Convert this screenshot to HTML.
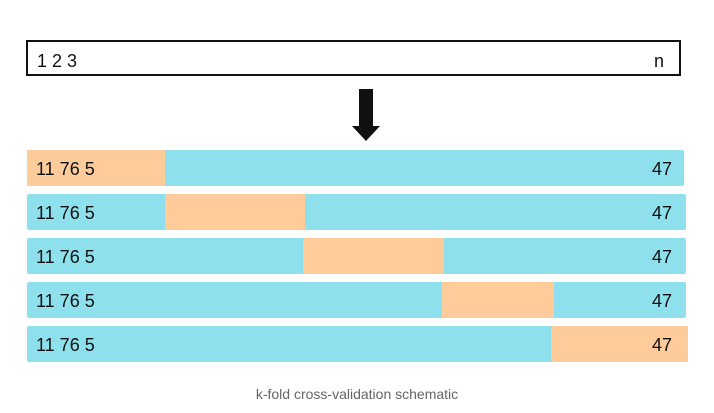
<!DOCTYPE html>
<html><head><meta charset="utf-8"><style>
body{margin:0;width:714px;height:413px;background:#fff;font-family:"Liberation Sans",sans-serif;position:relative;overflow:hidden}
.abs{position:absolute}
.t{position:absolute;font-size:18px;color:#111;line-height:1}
</style></head><body>
<div class="abs" style="left:26px;top:40px;width:651px;height:32px;border:2px solid #111;box-sizing:content-box"></div>
<div class="t" style="left:37px;top:52px">1 2 3</div>
<div class="t" style="left:654px;top:52px">n</div>
<svg class="abs" style="left:0;top:0" width="714" height="413">
<polygon points="359,89 373,89 373,126 380,126 366,141 352,126 359,126" fill="#111"/>
</svg>
<div id="folds"></div>
<div class="abs" style="left:0;width:714px;top:386px;text-align:center;font-size:14px;color:#666">k-fold cross-validation schematic</div>
<script>
const foldTops=[150,194,238,282,326];
const foldRights=[684,686,686,686,688];
const testStart=[27,165,303,442,551];
const testEnd=[165,305,444,554,688];
const leftLabel="11 76 5";
const rightLabel="47";
const c=document.getElementById('folds');
for(let i=0;i<foldTops.length;i++){
  const r=document.createElement('div');
  r.className='abs';
  
  
  r.style.cssText=`left:27px;top:${foldTops[i]}px;width:${foldRights[i]-27}px;height:36px;background:#8EE0EC;border-radius:2px`;
  c.appendChild(r);
  const o=document.createElement('div');
  o.className='abs';
  
  
  o.style.cssText=`left:${testStart[i]}px;top:${foldTops[i]}px;width:${testEnd[i]-testStart[i]}px;height:36px;background:#FECB9B`;
  c.appendChild(o);
  const a=document.createElement('div');
  a.className='t';
  
  
  a.style.cssText=`left:36px;top:${foldTops[i]+10}px`;
  a.textContent=leftLabel;
  c.appendChild(a);
  const b=document.createElement('div');
  b.className='t';
  
  
  b.style.cssText=`left:652px;top:${foldTops[i]+10}px`;
  b.textContent=rightLabel;
  c.appendChild(b);
}
</script>
</body></html>
